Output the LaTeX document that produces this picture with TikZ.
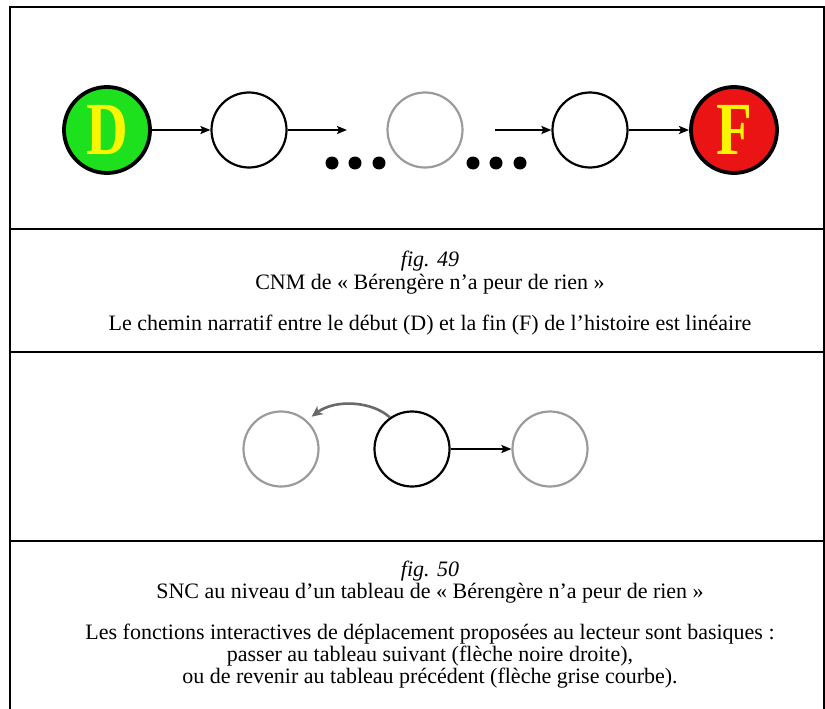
\documentclass[tikz,border=0pt]{standalone}
\usepackage{fontspec}
\setmainfont{Liberation Serif}
\usetikzlibrary{arrows.meta}
\definecolor{dgreen}{RGB}{30,225,30}
\definecolor{dred}{RGB}{235,20,20}
\definecolor{dyellow}{RGB}{250,245,0}
\definecolor{lgray}{RGB}{155,155,155}
\definecolor{agray}{RGB}{105,105,105}
\begin{document}
\begin{tikzpicture}[x=1pt,y=-1pt,
  rulestyle/.style={line width=2.2pt, black},
  endnode/.style={circle, draw=black, line width=3.8pt, minimum size=86pt, inner sep=0pt},
  blank/.style={circle, draw=black, line width=2.2pt, minimum size=75pt, inner sep=0pt},
  faint/.style={circle, draw=lgray, line width=2.2pt, minimum size=75pt, inner sep=0pt},
  flow/.style={line width=2pt, -{Stealth[length=10pt,width=8pt,inset=2pt]}},
  backarrow/.style={line width=2.6pt, agray, -{Stealth[length=11pt,width=10pt,inset=3pt]}},
  blackdot/.style={circle, fill=black, minimum size=13pt, inner sep=0pt},
  captxt/.style={font=\fontsize{22}{26}\selectfont, inner sep=0pt, anchor=base},
  letter/.style={font=\fontsize{75}{75}\selectfont\bfseries, text=dyellow}
]
\useasboundingbox (0,0) rectangle (825,709);
% frame
\draw[rulestyle] (10,709) -- (10,7) -- (824,7) -- (824,709);
\draw[rulestyle] (10,229) -- (824,229);
\draw[rulestyle] (10,352) -- (824,352);
\draw[rulestyle] (10,541) -- (824,541);

% fig 49 diagram
\node[endnode, fill=dgreen, letter] (d) at (107,130) {\scalebox{0.77}[1]{D}};
\node[blank] (n1) at (249,130) {};
\node[faint] (n2) at (425,130) {};
\node[blank] (n3) at (590,130) {};
\node[endnode, fill=dred, letter] (f) at (734,130) {\scalebox{0.78}[1]{F}};
\coordinate (a2) at (347,130);
\coordinate (a3) at (495,130);
\draw[flow] (d) -- (n1);
\draw[flow] (n1) -- (a2);
\draw[flow] (a3) -- (n3);
\draw[flow] (n3) -- (f);
\node[blackdot] (p1) at (332,163) {};
\node[blackdot] (p2) at (355,163) {};
\node[blackdot] (p3) at (379,163) {};
\node[blackdot] (p4) at (473,163) {};
\node[blackdot] (p5) at (496,163) {};
\node[blackdot] (p6) at (520,163) {};

% fig 49 caption
\node[captxt] (f49) at (430,266) {\textit{fig. 49}};
\node[captxt] (t49) at (430,289) {CNM de « Bérengère n’a peur de rien »};
\node[captxt] (c49) at (430,330) {Le chemin narratif entre le début (D) et la fin (F) de l’histoire est linéaire};

% fig 50 diagram
\node[faint] (l) at (281,449) {};
\node[blank] (m) at (412,449) {};
\node[faint] (r) at (550,449) {};
\draw[flow] (m) -- (r);
\draw[backarrow, shorten >=6pt] (m.125) .. controls (372,401) and (335,399) .. (l.48);

% fig 50 caption
\node[captxt] (f50) at (430,576) {\textit{fig. 50}};
\node[captxt] (t50) at (430,598) {SNC au niveau d’un tableau de « Bérengère n’a peur de rien »};
\node[captxt] (c50a) at (430,639) {Les fonctions interactives de déplacement proposées au lecteur sont basiques :};
\node[captxt] (c50b) at (430,661) {passer au tableau suivant (flèche noire droite),};
\node[captxt] (c50c) at (430,683) {ou de revenir au tableau précédent (flèche grise courbe).};
\end{tikzpicture}
\end{document}
